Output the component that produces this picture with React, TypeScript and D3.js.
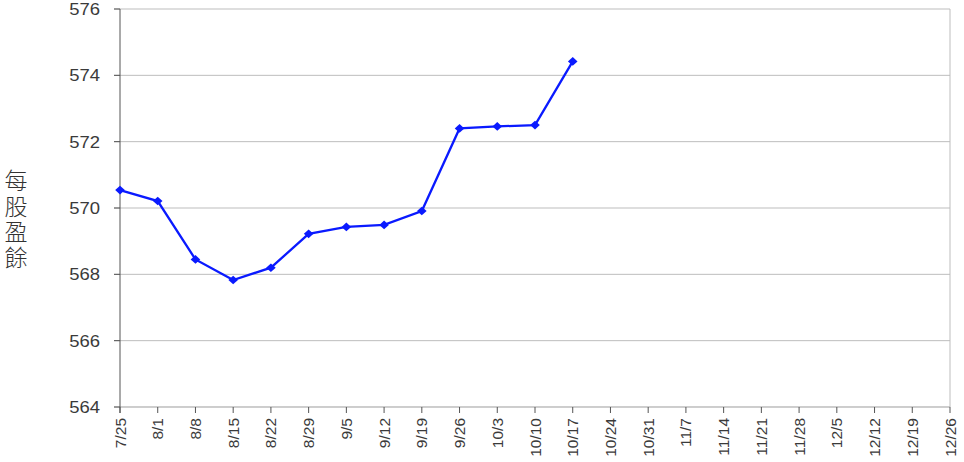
import React from "react";
import * as d3 from "d3";

const categories = ["7/25","8/1","8/8","8/15","8/22","8/29","9/5","9/12","9/19","9/26","10/3","10/10","10/17","10/24","10/31","11/7","11/14","11/21","11/28","12/5","12/12","12/19","12/26"];
const eps = [570.54, 570.21, 568.45, 567.83, 568.2, 569.22, 569.43, 569.49, 569.91, 572.4, 572.46, 572.5, 574.42];
const yTicks = [564, 566, 568, 570, 572, 574, 576];
const yTitle = "每股盈餘";

export default function App() {
  const W = 964, H = 462;
  const left = 120, right = 950, top = 9, bottom = 407;
  const x = d3.scalePoint<string>().domain(categories).range([left, right]);
  const y = d3.scaleLinear().domain([564, 576]).range([bottom, top]);
  const line = d3.line<number>().x((_, i) => x(categories[i])!).y(d => y(d));
  const font = "'Liberation Sans', Arial, sans-serif";
  const blue = "#0a1aff";
  return (
    <svg width={W} height={H} style={{ position: "absolute", left: 0, top: 0 }}>
      <rect x={0} y={0} width={W} height={H} fill="#fff" />
      {yTicks.map(t => (
        <g key={t}>
          <line x1={left - 6} x2={right} y1={y(t)} y2={y(t)} stroke="#bdbdbd" strokeWidth={1} />
          <line x1={left - 6} x2={left} y1={y(t)} y2={y(t)} stroke="#555" strokeWidth={1} />
          <text transform={`translate(100,${y(t)}) scale(1.12,1)`} dy="0.36em" textAnchor="end" fontFamily={font} fontSize={16.5} fill="#3a3a3a">{t}</text>
        </g>
      ))}
      <line x1={right} x2={right} y1={top} y2={bottom} stroke="#bdbdbd" />
      <line x1={left} x2={right} y1={bottom} y2={bottom} stroke="#bdbdbd" />
      <line x1={left} x2={left} y1={top} y2={bottom + 6} stroke="#555" />
      {categories.map(c => (
        <g key={c}>
          <line x1={x(c)} x2={x(c)} y1={bottom} y2={bottom + 6} stroke="#555" />
          <text transform={`translate(${x(c)! + 5.5},${bottom + 11}) rotate(-90)`} textAnchor="end" fontFamily={font} fontSize={15.5} fill="#3a3a3a">{c}</text>
        </g>
      ))}
      <text x={16} y={169} style={{ writingMode: "vertical-rl" }} letterSpacing={2.5} fontFamily="'Noto Sans CJK TC', sans-serif" fontSize={23} fontWeight={300} fill="#333">
        {yTitle}
      </text>
      <path d={line(eps)!} fill="none" stroke={blue} strokeWidth={2.3} />
      {eps.map((v, i) => {
        const cx = x(categories[i])!, cy = y(v);
        return <path key={i} d={`M${cx - 4.8},${cy}L${cx},${cy - 4.3}L${cx + 4.8},${cy}L${cx},${cy + 4.3}Z`} fill={blue} />;
      })}
    </svg>
  );
}
